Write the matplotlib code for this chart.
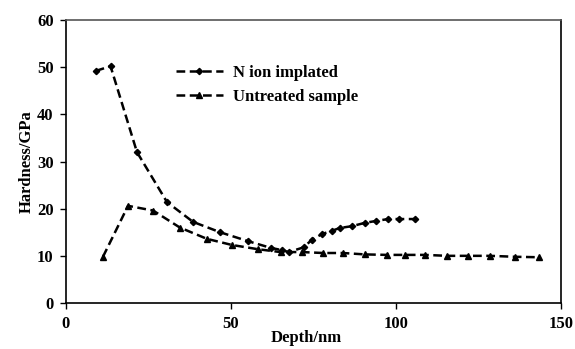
import matplotlib
matplotlib.use("Agg")
import matplotlib.pyplot as plt

plt.rcParams['font.family'] = ['Liberation Serif', 'DejaVu Serif']
plt.rcParams['font.weight'] = 'bold'

# Data
n_ion_depth = [9.0, 13.5, 21.5, 30.6, 38.5, 46.7, 55.2, 62.0, 65.5, 67.5, 72.0, 74.5,
               77.5, 80.5, 83.0, 86.7, 90.6, 94.0, 97.6, 101.0, 105.8]
n_ion_hard = [49.2, 50.2, 32.0, 21.4, 17.2, 15.0, 13.1, 11.7, 11.2, 10.8, 11.8, 13.4,
              14.6, 15.3, 15.9, 16.3, 17.0, 17.4, 17.8, 17.8, 17.8]

untr_depth = [11.2, 18.8, 26.4, 34.5, 42.7, 50.3, 58.2, 65.0, 71.5, 77.9, 83.9, 90.6,
              97.3, 102.7, 108.8, 115.5, 121.8, 128.5, 136.0, 143.3]
untr_hard = [9.8, 20.6, 19.6, 16.0, 13.6, 12.3, 11.4, 10.8, 10.8, 10.6, 10.6, 10.3,
             10.2, 10.2, 10.2, 10.0, 10.0, 10.0, 9.8, 9.7]

x_ticks = [0, 50, 100, 150]
y_ticks = [0, 10, 20, 30, 40, 50, 60]

fig = plt.figure(figsize=(5.75, 3.49), dpi=100)
ax = fig.add_axes([66/575, 46/349, (561-66)/575, (303-20)/349])

ax.plot(n_ion_depth, n_ion_hard, color='black', lw=1.8, linestyle=(0, (3.5, 1.8)),
        marker='D', markersize=3.2, label='N ion implated')
ax.plot(untr_depth, untr_hard, color='black', lw=1.8, linestyle=(0, (3.5, 1.8)),
        marker='^', markersize=4.2, label='Untreated sample')

ax.set_xlim(0, 150)
ax.set_ylim(0, 60)
ax.set_xticks(x_ticks)
ax.set_yticks(y_ticks)
ax.tick_params(direction='out', length=4, width=1, labelsize=12, pad=5)
for lab in ax.get_xticklabels() + ax.get_yticklabels():
    lab.set_fontweight('bold')
for s in ax.spines.values():
    s.set_linewidth(1.2)
ax.spines['top'].set_color('#555555')

ax.set_xlabel('Depth/nm', fontsize=12, fontweight='bold', labelpad=0)
ax.xaxis.set_label_coords(0.485, -0.095)
ax.set_ylabel('Hardness/GPa', fontsize=12, fontweight='bold', labelpad=1.5)

leg = ax.legend(loc='upper left', bbox_to_anchor=(0.192, 0.895), frameon=False,
                numpoints=1, handlelength=2.8, handletextpad=0.6,
                labelspacing=0.5, prop={'size': 12, 'weight': 'bold'})

fig.savefig('out.png', dpi=100)
